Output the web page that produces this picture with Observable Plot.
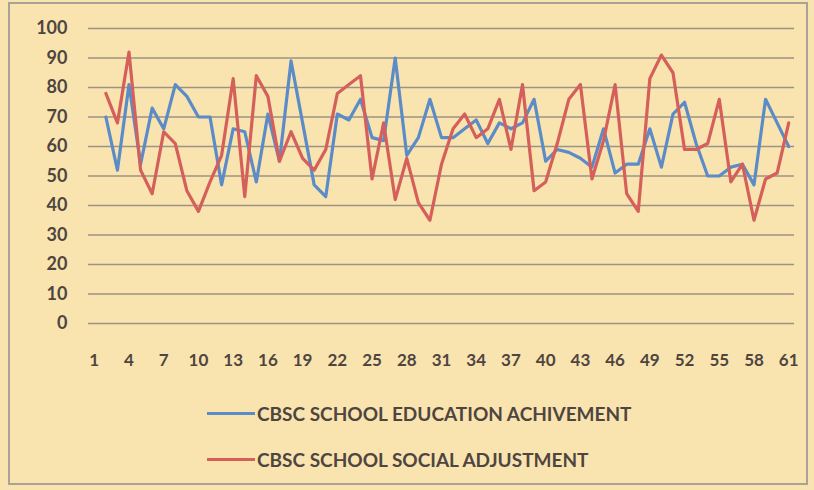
<!DOCTYPE html>
<html>
<head>
<meta charset="utf-8">
<script src="https://cdn.jsdelivr.net/npm/d3@7"></script>
<script src="https://cdn.jsdelivr.net/npm/@observablehq/plot@0.6"></script>
<style>
  html, body { margin: 0; padding: 0; background: #f9e4b0; }
  #wrap { position: relative; width: 814px; height: 490px; overflow: hidden; background: #f9e4b0; font-family: Lato, sans-serif; }
  #frame { position: absolute; left: 8px; top: 2px; width: 800px; height: 483px; border: 2px solid #a8a396; box-sizing: border-box; }
  #chart { position: absolute; left: 0; top: 0; }
  .row { position: absolute; left: 207px; display: flex; align-items: center; height: 24px; color: #4f4540; font-size: 19px; font-weight: 700; white-space: nowrap; }
  .sw { width: 48px; height: 3px; margin-right: 2px; }
</style>
</head>
<body>
<div id="wrap">
  <div id="frame"></div>
  <div id="chart"></div>
  <div id="legend"></div>
</div>
<script>
// Categories that carry data (category 1 on the axis has no point)
const categories = [2,3,4,5,6,7,8,9,10,11,12,13,14,15,16,17,18,19,20,21,22,23,24,25,26,27,28,29,30,31,
  32,33,34,35,36,37,38,39,40,41,42,43,44,45,46,47,48,49,50,51,52,53,54,55,56,57,58,59,60,61];

const educationAchievement = [70,52,81,54,73,66,81,77,70,70,47,66,65,48,71,55,89,68,47,43,
  71,69,76,63,62,90,57,63,76,63,63,66,69,61,68,66,68,76,55,59,
  58,56,53,66,51,54,54,66,53,71,75,61,50,50,53,54,47,76,68,60];

const socialAdjustment = [78,68,92,52,44,65,61,45,38,48,57,83,43,84,77,55,65,56,52,59,
  78,81,84,49,68,42,56,41,35,54,66,71,63,66,76,59,81,45,48,61,
  76,81,49,62,81,44,38,83,91,85,59,59,61,76,48,54,35,49,51,68];

const seriesNames = ["CBSC SCHOOL EDUCATION ACHIVEMENT", "CBSC SCHOOL SOCIAL ADJUSTMENT"];
const seriesColors = ["#5b8cc8", "#d5605b"];
const xTickLabels = [1,4,7,10,13,16,19,22,25,28,31,34,37,40,43,46,49,52,55,58,61];
const yTickLabels = [0,10,20,30,40,50,60,70,80,90,100];

const rows = [];
categories.forEach((c, i) => {
  rows.push({cat: c, value: educationAchievement[i], series: seriesNames[0]});
});
categories.forEach((c, i) => {
  rows.push({cat: c, value: socialAdjustment[i], series: seriesNames[1]});
});

const chart = Plot.plot({
  width: 814,
  height: 380,
  marginLeft: 88,
  marginRight: 20,
  marginTop: 28,
  marginBottom: 57,
  style: { background: "transparent", fontFamily: "Lato, sans-serif", color: "#4f4540" },
  x: { type: "linear", domain: [0.5, 61.5] },
  y: { domain: [0, 100] },
  color: { domain: seriesNames, range: seriesColors },
  marks: [
    Plot.gridY(yTickLabels, { stroke: "#9d9384", strokeOpacity: 1, strokeWidth: 1.3 }),
    Plot.axisY(yTickLabels, { tickSize: 0, tickPadding: 21, fontSize: 18, fontWeight: "bold", label: null }),
    Plot.axisX(xTickLabels, { tickSize: 0, tickPadding: 30, fontSize: 17, fontWeight: "bold", label: null }),
    Plot.lineY(rows, { x: "cat", y: "value", z: "series", stroke: "series", strokeWidth: 3.2, strokeLinejoin: "round" })
  ]
});
document.getElementById("chart").appendChild(chart);

const legend = document.getElementById("legend");
const legendTops = [401, 447];
seriesNames.forEach((name, i) => {
  const row = document.createElement("div");
  row.className = "row";
  row.style.top = legendTops[i] + "px";
  const sw = document.createElement("div");
  sw.className = "sw";
  sw.style.background = seriesColors[i];
  const t = document.createElement("span");
  t.textContent = name;
  row.appendChild(sw);
  row.appendChild(t);
  legend.appendChild(row);
});
</script>
</body>
</html>
